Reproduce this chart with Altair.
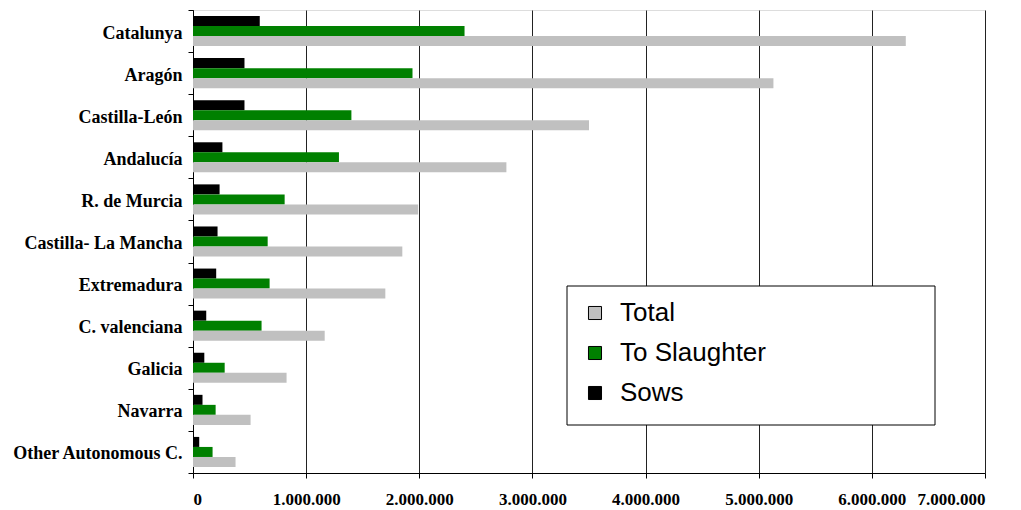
import altair as alt
import pandas as pd

# Pig census by autonomous community (head count)
regions = [
    "Catalunya", "Aragón", "Castilla-León", "Andalucía", "R. de Murcia",
    "Castilla- La Mancha", "Extremadura", "C. valenciana", "Galicia",
    "Navarra", "Other Autonomous C.",
]
sows = [590000, 455000, 455000, 260000, 235000, 217000, 205000, 117000, 100000, 84000, 55000]
to_slaughter = [2400000, 1940000, 1400000, 1290000, 810000, 660000, 677000, 606000, 280000, 200000, 173000]
total = [6300000, 5130000, 3500000, 2770000, 1990000, 1850000, 1700000, 1164000, 827000, 509000, 376000]

series_names = ["Total", "To Slaughter", "Sows"]
series_colors = ["#C0C0C0", "#008000", "#000000"]
bar_order = ["Sows", "To Slaughter", "Total"]

rows = []
for i, r in enumerate(regions):
    rows.append({"Region": r, "Series": "Sows", "Value": sows[i]})
    rows.append({"Region": r, "Series": "To Slaughter", "Value": to_slaughter[i]})
    rows.append({"Region": r, "Series": "Total", "Value": total[i]})
df = pd.DataFrame(rows)

W, H = 792, 463

bars = alt.Chart(df).mark_bar().encode(
    y=alt.Y(
        "Region:N",
        sort=regions,
        scale=alt.Scale(paddingInner=0, paddingOuter=0),
        axis=alt.Axis(
            title=None,
            tickBand="extent",
            tickSize=5,
            tickColor="#000000",
            domainColor="#000000",
            labelFont="Liberation Serif",
            labelFontWeight="bold",
            labelFontSize=18,
            labelColor="#000000",
            labelPadding=6,
            labelOffset=2,
            labelLimit=300,
            grid=False,
        ),
    ),
    yOffset=alt.YOffset("Series:N", sort=bar_order, scale=alt.Scale(paddingOuter=0.6, paddingInner=0)),
    x=alt.X(
        "Value:Q",
        scale=alt.Scale(domain=[0, 7000000], nice=False),
        axis=alt.Axis(
            title=None,
            values=[0, 1000000, 2000000, 3000000, 4000000, 5000000, 6000000, 7000000],
            labelExpr="replace(replace(format(datum.value, ','), ',', '.'), ',', '.')",
            tickSize=5,
            tickColor="#000000",
            domainColor="#000000",
            gridColor="#222222",
            gridWidth=1,
            labelFont="Liberation Serif",
            labelFontWeight="bold",
            labelFontSize=17,
            labelColor="#000000",
            labelPadding=13,
        ),
    ),
    color=alt.Color(
        "Series:N",
        scale=alt.Scale(domain=series_names, range=series_colors),
        legend=alt.Legend(
            title=None,
            orient="none",
            legendX=389,
            legendY=290,
            symbolType="square",
            symbolSize=170,
            symbolStrokeColor="#000000",
            symbolStrokeWidth=1,
            labelFont="Liberation Sans",
            labelFontSize=26,
            labelColor="#000000",
            labelOffset=12,
            rowPadding=14,
            padding=0,
        ),
    ),
)

legend_frame = alt.Chart(pd.DataFrame({"k": [0]})).mark_rect(
    fill="#FFFFFF", stroke="#000000", strokeWidth=1
).encode(
    x=alt.value(374), x2=alt.value(742), y=alt.value(276), y2=alt.value(415)
)

chart = alt.layer(bars, legend_frame).properties(
    width=W,
    height=H,
    autosize=alt.AutoSizeParams(type="none"),
    padding={"left": 193, "top": 10, "right": 36, "bottom": 37},
).configure_view(
    stroke="#888888", strokeWidth=1.5
).configure(background="#FFFFFF")

chart.save("out.html", embed_options={"renderer": "svg", "actions": False})
